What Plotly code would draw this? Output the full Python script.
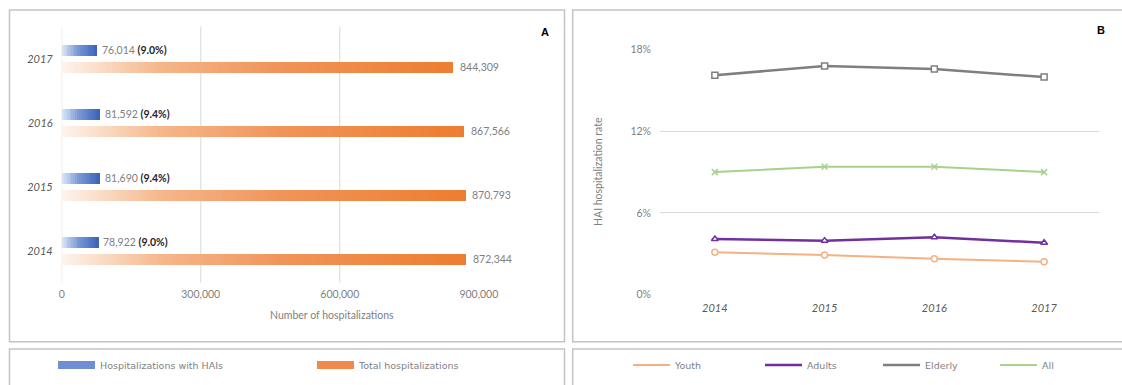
import plotly.graph_objects as go

# ---------------- data ----------------
years = ["2014", "2015", "2016", "2017"]
hai_hosp = [78922, 81690, 81592, 76014]
total_hosp = [872344, 870793, 867566, 844309]
x_ticks = [0, 300000, 600000, 900000]

rate_years = ["2014", "2015", "2016", "2017"]
youth = [3.1, 2.9, 2.63, 2.41]
adults = [4.08, 3.96, 4.21, 3.81]
elderly = [16.12, 16.8, 16.58, 15.99]
all_ages = [9.0, 9.4, 9.4, 9.0]
rate_ticks = [0, 6, 12, 18]
rate_tick_labels = ["0%", "6%", "12%", "18%"]

W, H = 1122, 385


def px(x):
    return x / W


def py(y):
    return 1 - y / H


def lerp_color(stops, t):
    for i in range(len(stops) - 1):
        t0, c0 = stops[i]
        t1, c1 = stops[i + 1]
        if t0 <= t <= t1:
            f = (t - t0) / (t1 - t0) if t1 > t0 else 0
            c = [round(c0[k] + (c1[k] - c0[k]) * f) for k in range(3)]
            return f"rgb({c[0]},{c[1]},{c[2]})"
    c = stops[-1][1]
    return f"rgb({c[0]},{c[1]},{c[2]})"


orange_stops = [(0, (253, 244, 237)), (0.25, (245, 182, 138)), (0.55, (240, 148, 88)), (1, (237, 125, 49))]
blue_stops = [(0, (220, 230, 246)), (0.45, (120, 152, 212)), (1, (58, 98, 184))]

fig = go.Figure()

pos = list(range(len(years)))
blue_pos = [p + 0.13 for p in pos]
orange_pos = [p - 0.13 for p in pos]
N_ORANGE = 110
N_BLUE = 20
bw = 0.165
# each gradient step is drawn from its start to the bar's end; later steps cover earlier ones
for k in range(N_BLUE):
    t = (k + 0.5) / N_BLUE
    fig.add_trace(go.Bar(
        x=[v * (N_BLUE - k) / N_BLUE for v in hai_hosp], base=[k * v / N_BLUE for v in hai_hosp],
        y=blue_pos, orientation="h", width=bw,
        marker=dict(color=lerp_color(blue_stops, t), line=dict(width=0)),
        showlegend=False, hoverinfo="skip", xaxis="x", yaxis="y"))
for k in range(N_ORANGE):
    t = (k + 0.5) / N_ORANGE
    fig.add_trace(go.Bar(
        x=[v * (N_ORANGE - k) / N_ORANGE for v in total_hosp], base=[k * v / N_ORANGE for v in total_hosp],
        y=orange_pos, orientation="h", width=bw,
        marker=dict(color=lerp_color(orange_stops, t), line=dict(width=0)),
        showlegend=False, hoverinfo="skip", xaxis="x", yaxis="y"))

# legend swatches for the left panel
fig.add_trace(go.Scatter(x=[None], y=[None], mode="lines", name="Hospitalizations with HAIs",
                         line=dict(color="#6F8FD3", width=8), legend="legend", xaxis="x", yaxis="y"))
fig.add_trace(go.Scatter(x=[None], y=[None], mode="lines", name="Total hospitalizations",
                         line=dict(color="#F08A4B", width=8), legend="legend2", xaxis="x", yaxis="y"))

annotations = []
for i in range(len(years)):
    pct = hai_hosp[i] / total_hosp[i] * 100
    annotations.append(dict(x=hai_hosp[i], y=blue_pos[i], xref="x", yref="y", xanchor="left",
                            text=f"{hai_hosp[i]:,} <b style='color:#262626'>({pct:.1f}%)</b>",
                            showarrow=False, xshift=3,
                            font=dict(family="Lato", size=10.5, color="#808080")))
    annotations.append(dict(x=total_hosp[i], y=orange_pos[i], xref="x", yref="y", xanchor="left",
                            text=f"{total_hosp[i]:,}", showarrow=False, xshift=5,
                            font=dict(family="Lato", size=10.5, color="#808080")))

# ---------------- right panel ----------------
series = [
    ("Youth", youth, "#F4B183", 2, "circle", "legend3"),
    ("Adults", adults, "#7030A0", 2.5, "triangle-up", "legend4"),
    ("Elderly", elderly, "#7F7F7F", 2.5, "square", "legend5"),
    ("All", all_ages, "#A9D18E", 2, "x-thin", "legend6"),
]
for name, vals, col, lw, sym, lg in series:
    fig.add_trace(go.Scatter(x=rate_years, y=vals, mode="lines", name=name,
                             line=dict(color=col, width=lw), legend=lg, xaxis="x2", yaxis="y2"))
for name, vals, col, lw, sym, lg in series:
    fig.add_trace(go.Scatter(x=rate_years, y=vals, mode="markers", showlegend=False,
                             marker=dict(symbol=sym, size=6, color="white",
                                         line=dict(color=col, width=1.5)),
                             xaxis="x2", yaxis="y2"))

# ---------------- shapes ----------------
shapes = []
border = dict(color="#C4C4C4", width=1.5)
shapes.append(dict(type="rect", xref="paper", yref="paper", x0=px(9.5), x1=px(564.5), y0=py(341.7), y1=py(10), line=border))
shapes.append(dict(type="rect", xref="paper", yref="paper", x0=px(572.7), x1=px(1130), y0=py(341.7), y1=py(10), line=border))
shapes.append(dict(type="rect", xref="paper", yref="paper", x0=px(9.5), x1=px(564.5), y0=py(395), y1=py(349), line=border))
shapes.append(dict(type="rect", xref="paper", yref="paper", x0=px(572.7), x1=px(1130), y0=py(395), y1=py(349), line=border))
for v in x_ticks[:-1]:
    shapes.append(dict(type="line", xref="x", yref="y domain", x0=v, x1=v, y0=0, y1=1,
                       line=dict(color="#D9D9D9", width=1), layer="below"))

annotations += [
    dict(text="<b>A</b>", x=px(545), y=py(24), xref="paper", yref="paper", showarrow=False,
         font=dict(family="Liberation Sans", size=11, color="#000000")),
    dict(text="<b>B</b>", x=px(1107), y=py(22), xref="paper", yref="paper", showarrow=False,
         font=dict(family="Liberation Sans", size=11, color="#000000")),
    dict(text="Number of hospitalizations", x=px(268), y=py(323), xref="paper", yref="paper",
         showarrow=False, font=dict(family="Lato", size=10.5, color="#7F7F7F")),
    dict(text="HAI hospitalization rate", x=px(598), y=py(172), xref="paper", yref="paper",
         showarrow=False, textangle=-90, font=dict(family="Lato", size=10.5, color="#7F7F7F")),
]

leg_common = dict(orientation="h", xanchor="left", yanchor="middle", bgcolor="rgba(0,0,0,0)",
                  font=dict(family="DejaVu Sans", size=9.5, color="#7F7F7F"), itemwidth=37)
ly = py(365)

fig.update_layout(
    width=W, height=H,
    margin=dict(l=0, r=0, t=0, b=0),
    paper_bgcolor="white", plot_bgcolor="white",
    barmode="overlay", bargap=0,
    xaxis=dict(domain=[px(61.7), px(61.7 + 920000 * 0.0004635)], range=[0, 920000],
               tickvals=x_ticks, tickformat=",", showgrid=False, zeroline=False, showline=False,
               ticks="", ticklabelstandoff=4, automargin=False,
               tickfont=dict(family="Lato", size=10.5, color="#7F7F7F")),
    yaxis=dict(domain=[py(282.7), py(26.7)], range=[-0.5, 3.5], tickvals=pos, ticktext=years,
               showgrid=False, zeroline=False, showline=False, ticks="", ticklabelstandoff=8,
               automargin=False,
               tickfont=dict(family="Lato", size=11, color="#595959", style="italic")),
    xaxis2=dict(domain=[px(660), px(1099)], type="category", range=[-0.5, 3.5],
                showgrid=False, zeroline=False, showline=False, ticks="", ticklabelstandoff=5,
                automargin=False, anchor="y2",
                tickfont=dict(family="Lato", size=11, color="#595959", style="italic")),
    yaxis2=dict(domain=[py(294.5), py(49.7)], range=[0, 18], tickvals=rate_ticks,
                ticktext=rate_tick_labels,
                showgrid=True, gridcolor="#D9D9D9", gridwidth=1, zeroline=False, showline=False,
                ticks="", ticklabelstandoff=8, automargin=False, anchor="x2",
                tickfont=dict(family="Lato", size=10.5, color="#7F7F7F")),
    legend=dict(x=px(53), y=ly, **leg_common),
    legend2=dict(x=px(312), y=ly, **leg_common),
    legend3=dict(x=px(628), y=ly, **leg_common),
    legend4=dict(x=px(760), y=ly, **leg_common),
    legend5=dict(x=px(878), y=ly, **leg_common),
    legend6=dict(x=px(995), y=ly, **leg_common),
    shapes=shapes,
    annotations=annotations,
)

fig.write_html("out.html")
